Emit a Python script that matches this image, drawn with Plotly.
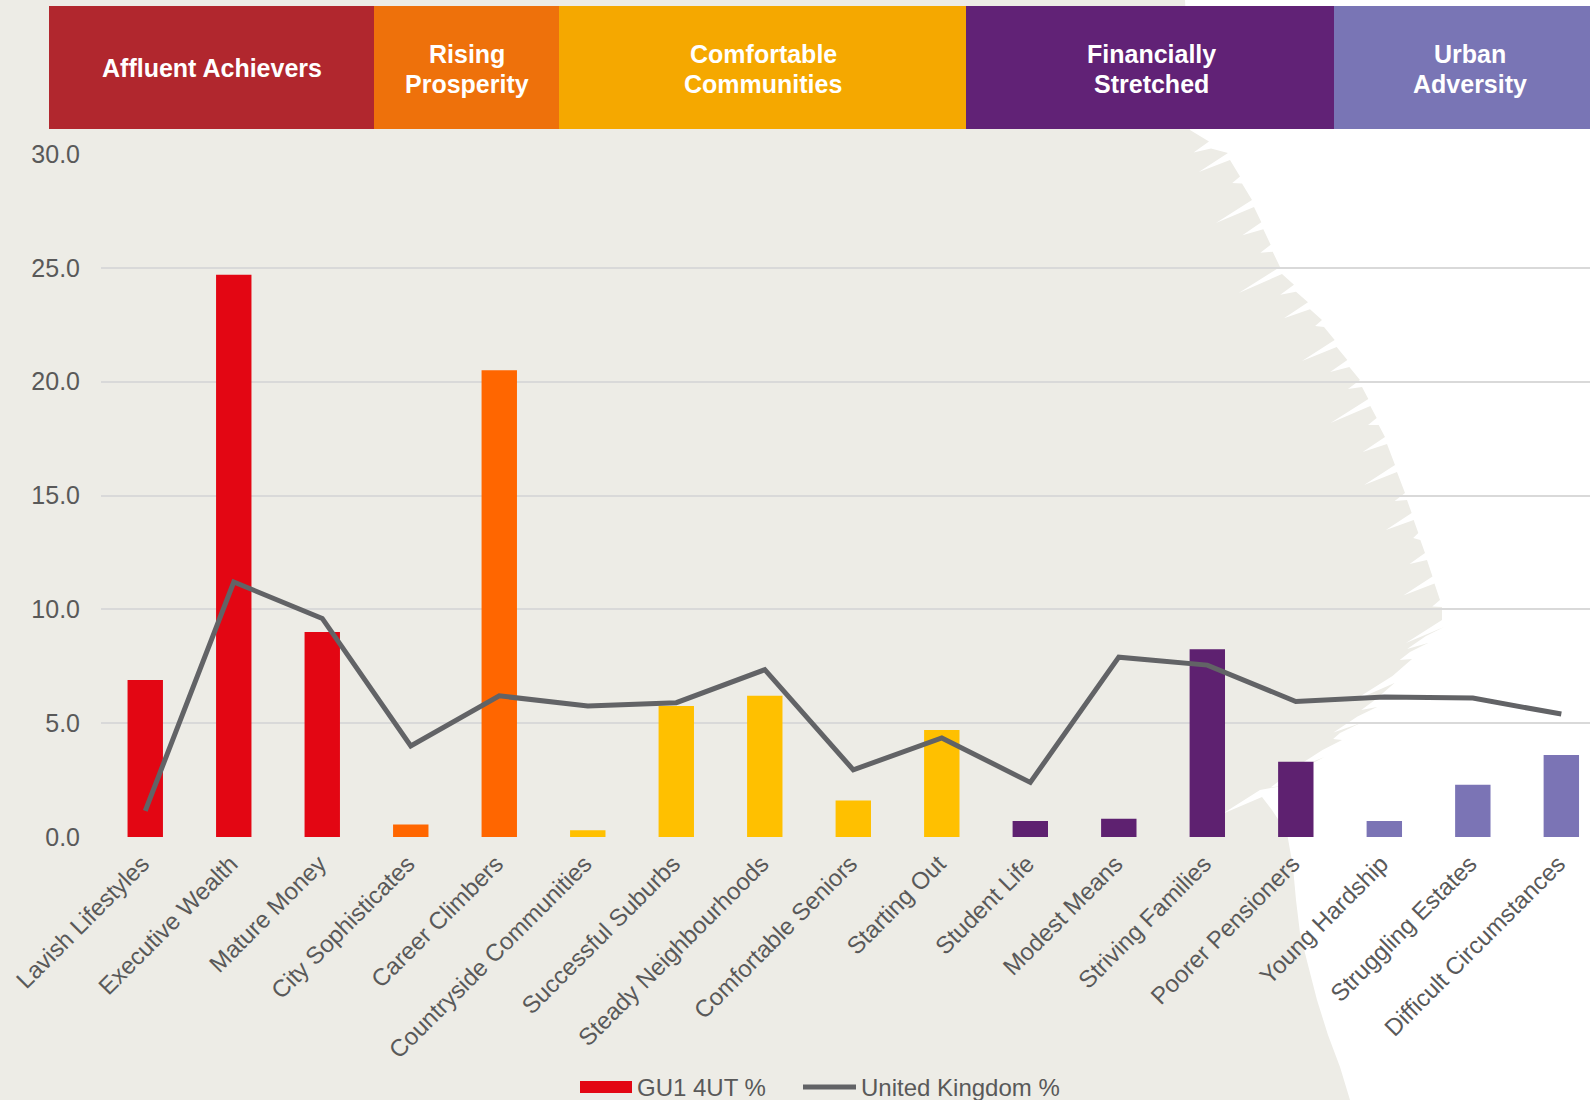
import math
import plotly.graph_objects as go

# ---------------- data ----------------
categories = ["Lavish Lifestyles", "Executive Wealth", "Mature Money", "City Sophisticates",
              "Career Climbers", "Countryside Communities", "Successful Suburbs",
              "Steady Neighbourhoods", "Comfortable Seniors", "Starting Out", "Student Life",
              "Modest Means", "Striving Families", "Poorer Pensioners", "Young Hardship",
              "Struggling Estates", "Difficult Circumstances"]
local_pct = [6.9, 24.7, 9.0, 0.55, 20.5, 0.3, 5.75, 6.2, 1.6, 4.7, 0.7, 0.8, 8.25, 3.3, 0.7, 2.3, 3.6]
uk_pct = [1.15, 11.2, 9.6, 4.0, 6.2, 5.75, 5.9, 7.35, 2.95, 4.35, 2.4, 7.9, 7.55, 5.95, 6.15, 6.1, 5.4]
category_group = [0, 0, 0, 1, 1, 2, 2, 2, 2, 2, 3, 3, 3, 3, 4, 4, 4]
group_lines = [["Affluent Achievers"], ["Rising", "Prosperity"], ["Comfortable", "Communities"],
               ["Financially", "Stretched"], ["Urban", "Adversity"]]
series_names = ["GU1 4UT %", "United Kingdom %"]
y_ticks = [0, 5, 10, 15, 20, 25, 30]

# ---------------- styles ----------------
W, H = 1590, 1100
ML, MR, MT, MB = 101, 0, 154, 263
BG = "#EDECE6"
TXT = "#595959"
FONT = "Liberation Sans, Arial, sans-serif"
bar_colors = ["#E30613", "#FF6600", "#FFC000", "#5E2170", "#7B74B5"]
band_colors = ["#B1272E", "#EE710B", "#F5A800", "#612276", "#7975B5"]
band_edges = [49, 374, 559, 966, 1334, 1590]   # pixel extents of header bands
band_text_x = [212, 467, 763, 1151, 1470]
band_top, band_bottom = 6, 129
line_color = "#626366"


def px(x):
    return (x - ML) / (W - ML - MR)


def py(y):
    return (H - MB - y) / (H - MT - MB)


def path_of(points):
    return "M " + " L ".join(f"{px(x):.5f},{py(y):.5f}" for x, y in points) + " Z"


fig = go.Figure()
fig.add_trace(go.Bar(
    x=categories, y=local_pct, name=series_names[0],
    marker=dict(color=[bar_colors[g] for g in category_group], line=dict(width=0)),
    width=0.4, showlegend=False,
))
fig.add_trace(go.Scatter(
    x=categories, y=uk_pct, name=series_names[1], mode="lines",
    line=dict(color=line_color, width=5), showlegend=False,
))

shapes = []
# ---- white brushed area on the right (decorative background) ----
edge = [(1185, 0), (1188, 60), (1190, 130), (1228, 153), (1252, 200), (1280, 267),
        (1322, 320), (1360, 380), (1385, 437), (1405, 493), (1425, 553), (1440, 600),
        (1442, 620), (1410, 652), (1375, 700), (1340, 733), (1305, 767), (1260, 790),
        (1272, 810), (1287, 833), (1293, 867), (1296, 900), (1300, 933), (1308, 965),
        (1317, 1000), (1328, 1035), (1340, 1067), (1350, 1100)]
tooth_depth = [18, 34, 9, 42, 22, 12, 48, 16, 28, 8, 38, 20, 14, 44, 10, 26, 36, 12, 30, 6]
brush = []
k = 0
for (x0, y0), (x1, y1) in zip(edge[:-1], edge[1:]):
    seg = math.hypot(x1 - x0, y1 - y0)
    n = max(1, int(seg // 20))
    for j in range(n):
        t = j / n
        x, y = x0 + (x1 - x0) * t, y0 + (y1 - y0) * t
        brush.append((x, y))
        if 130 < y < 800:
            d = tooth_depth[k % len(tooth_depth)]
            k += 1
            brush.append((x - d * 0.86, y + d * 0.5 + 2))
            brush.append((x + 2, y + 7))
brush.append(edge[-1])
brush += [(1600, 1100), (1600, 0)]
shapes.append(dict(type="path", xref="paper", yref="paper", path=path_of(brush),
                   fillcolor="#FFFFFF", line=dict(width=0), layer="below"))

annotations = []
for i, lines in enumerate(group_lines):
    shapes.append(dict(type="rect", xref="paper", yref="paper",
                       x0=px(band_edges[i]), x1=px(band_edges[i + 1]),
                       y0=py(band_bottom), y1=py(band_top),
                       fillcolor=band_colors[i], line=dict(width=0), layer="above"))
    ys = [68] if len(lines) == 1 else [54, 84]
    for txt, yy in zip(lines, ys):
        annotations.append(dict(xref="paper", yref="paper", x=px(band_text_x[i]),
                                y=py(yy), text=f"<b>{txt}</b>",
                                showarrow=False, xanchor="center", yanchor="middle",
                                font=dict(family=FONT, size=25, color="#FFFFFF")))

# custom legend
shapes.append(dict(type="rect", xref="paper", yref="paper", x0=px(580), x1=px(632),
                   y0=py(1093), y1=py(1081), fillcolor=bar_colors[0], line=dict(width=0)))
shapes.append(dict(type="line", xref="paper", yref="paper", x0=px(803), x1=px(856),
                   y0=py(1087), y1=py(1087), line=dict(color=line_color, width=5)))
annotations.append(dict(xref="paper", yref="paper", x=px(635), y=py(1087),
                        text=series_names[0], showarrow=False, xanchor="left",
                        yanchor="middle", font=dict(family=FONT, size=24, color=TXT)))
annotations.append(dict(xref="paper", yref="paper", x=px(859), y=py(1087),
                        text=series_names[1], showarrow=False, xanchor="left",
                        yanchor="middle", font=dict(family=FONT, size=24, color=TXT)))

fig.update_layout(
    width=W, height=H,
    margin=dict(l=ML, r=MR, t=MT, b=MB, autoexpand=False),
    paper_bgcolor=BG, plot_bgcolor="rgba(0,0,0,0)",
    font=dict(family=FONT, color=TXT, size=24),
    shapes=shapes, annotations=annotations,
    showlegend=False, bargap=0.6,
    xaxis=dict(range=[-0.5, 16.324], tickangle=-45, showgrid=False, zeroline=False,
               showline=False, ticks="", ticklabelstandoff=7, ticklabelshift=-3,
               tickfont=dict(family=FONT, size=24, color=TXT), fixedrange=True),
    yaxis=dict(range=[0, 30], tickvals=y_ticks, tickformat=".1f", showgrid=True,
               gridcolor="#D9D9D9", gridwidth=2, zeroline=False, showline=False, ticks="",
               ticklabelstandoff=20, tickfont=dict(family=FONT, size=25, color=TXT),
               fixedrange=True),
)

fig.write_html("out.html")
